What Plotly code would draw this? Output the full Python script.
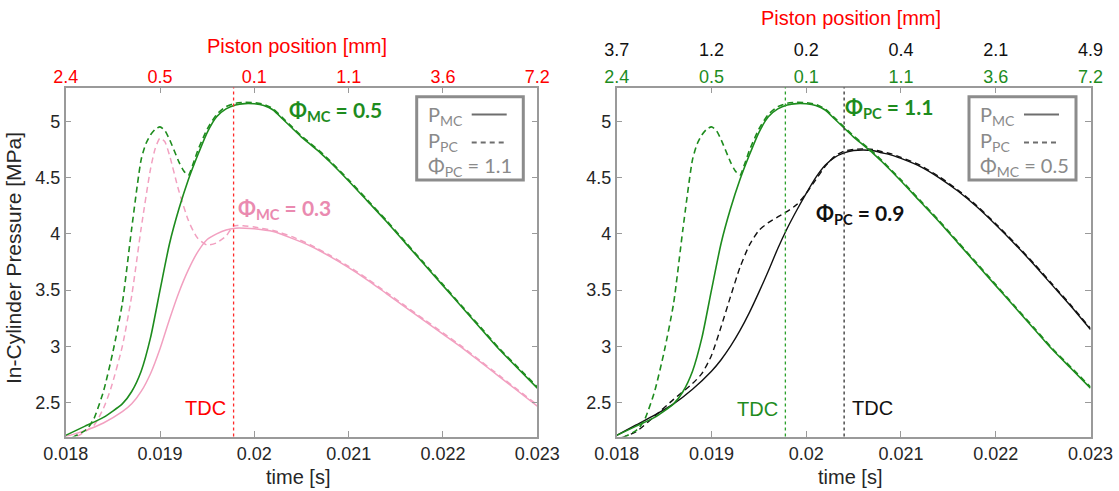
import plotly.graph_objects as go

# ---------------- data ----------------
time_ticks = [0.018, 0.019, 0.020, 0.021, 0.022, 0.023]
time_ticktext = ["0.018", "0.019", "0.02", "0.021", "0.022", "0.023"]
pos_left = ["2.4", "0.5", "0.1", "1.1", "3.6", "7.2"]
pos_right_black = ["3.7", "1.2", "0.2", "0.4", "2.1", "4.9"]
pos_right_green = ["2.4", "0.5", "0.1", "1.1", "3.6", "7.2"]
p_ticks = [2.5, 3, 3.5, 4, 4.5, 5]

# Green case (Phi_MC = 0.5, Phi_PC = 1.1), main chamber
t_g_mc = [0.0180, 0.0182, 0.0184, 0.0186, 0.0187, 0.0188, 0.0189, 0.0190, 0.0191, 0.0192,
          0.0193, 0.0194, 0.0195, 0.0196, 0.0197, 0.0198, 0.0199, 0.0200, 0.0201, 0.0202,
          0.0203, 0.0204, 0.0205, 0.0206, 0.0207, 0.0208, 0.0210, 0.0212, 0.0214, 0.0216,
          0.0218, 0.0220, 0.0222, 0.0224, 0.0226, 0.0228, 0.0230]
p_g_mc = [2.21, 2.29, 2.37, 2.49, 2.60, 2.78, 3.08, 3.50, 3.91, 4.22,
          4.48, 4.70, 4.90, 5.04, 5.11, 5.145, 5.157, 5.155, 5.14, 5.10,
          5.02, 4.94, 4.86, 4.79, 4.72, 4.64, 4.47, 4.29, 4.11, 3.92,
          3.73, 3.54, 3.35, 3.16, 2.97, 2.80, 2.63]
# Green case, pre-chamber
t_g_pc = [0.01807, 0.0182, 0.01824, 0.0183, 0.0184, 0.0185, 0.0186, 0.0187, 0.0188, 0.01885,
          0.0189, 0.01895, 0.0190, 0.01905, 0.0191, 0.0192, 0.01925, 0.0193, 0.01935, 0.0194,
          0.0195, 0.0196, 0.0197, 0.0198, 0.0199, 0.0200, 0.0201, 0.0202, 0.0203, 0.0204,
          0.0205, 0.0206, 0.0207, 0.0208, 0.0210, 0.0212, 0.0214, 0.0216, 0.0218, 0.0220,
          0.0222, 0.0224, 0.0226, 0.0228, 0.0230]
p_g_pc = [2.19, 2.25, 2.28, 2.36, 2.60, 2.95, 3.38, 4.05, 4.66, 4.80,
          4.88, 4.93, 4.95, 4.92, 4.84, 4.64, 4.56, 4.52, 4.62, 4.74,
          4.93, 5.06, 5.13, 5.16, 5.168, 5.165, 5.15, 5.11, 5.03, 4.95,
          4.87, 4.80, 4.73, 4.65, 4.48, 4.30, 4.12, 3.93, 3.74, 3.55,
          3.36, 3.17, 2.98, 2.81, 2.64]

# Pink case (Phi_MC = 0.3), main chamber
t_p_mc = [0.0180, 0.0182, 0.0184, 0.0186, 0.0187, 0.0188, 0.0189, 0.0190, 0.0191, 0.0192,
          0.0193, 0.0194, 0.0195, 0.0196, 0.0197, 0.0198, 0.0199, 0.0200, 0.0202, 0.0204,
          0.0206, 0.0208, 0.0210, 0.0212, 0.0214, 0.0216, 0.0218, 0.0220, 0.0222, 0.0224,
          0.0226, 0.0228, 0.0230]
p_p_mc = [2.20, 2.25, 2.32, 2.42, 2.49, 2.60, 2.76, 2.98, 3.24, 3.48,
          3.68, 3.84, 3.95, 4.00, 4.035, 4.05, 4.05, 4.045, 4.02, 3.96,
          3.89, 3.80, 3.70, 3.59, 3.47, 3.35, 3.23, 3.11, 2.99, 2.86,
          2.73, 2.60, 2.47]
# Pink case, pre-chamber
t_p_pc = [0.01812, 0.0183, 0.0184, 0.01848, 0.0186, 0.0187, 0.0188, 0.0189, 0.01895, 0.0190,
          0.01905, 0.0191, 0.0192, 0.0193, 0.01935, 0.0194, 0.0195, 0.0196, 0.0197, 0.01978,
          0.0199, 0.0200, 0.0202, 0.0204, 0.0206, 0.0208, 0.0210, 0.0212, 0.0214, 0.0216,
          0.0218, 0.0220, 0.0222, 0.0224, 0.0226, 0.0228, 0.0230]
p_p_pc = [2.20, 2.30, 2.45, 2.63, 3.00, 3.45, 4.05, 4.58, 4.76, 4.85,
          4.82, 4.70, 4.38, 4.12, 4.03, 3.96, 3.90, 3.92, 3.98, 4.07,
          4.07, 4.06, 4.03, 3.975, 3.90, 3.81, 3.71, 3.60, 3.48, 3.36,
          3.24, 3.12, 3.00, 2.87, 2.74, 2.61, 2.48]

# Black case (Phi_PC = 0.9), main chamber
t_k_mc = [0.0180, 0.0182, 0.0184, 0.0186, 0.0188, 0.0190, 0.0191, 0.0192, 0.0193, 0.0194,
          0.0195, 0.0196, 0.0197, 0.0198, 0.0199, 0.0200, 0.0201, 0.0202, 0.0203, 0.0204,
          0.0205, 0.0206, 0.0207, 0.0208, 0.0209, 0.0210, 0.0212, 0.0214, 0.0216, 0.0218,
          0.0220, 0.0222, 0.0224, 0.0226, 0.0228, 0.0230]
p_k_mc = [2.21, 2.30, 2.39, 2.49, 2.62, 2.78, 2.88, 3.00, 3.14, 3.30,
          3.48, 3.67, 3.87, 4.05, 4.21, 4.36, 4.50, 4.61, 4.68, 4.72,
          4.74, 4.745, 4.74, 4.72, 4.70, 4.67, 4.60, 4.50, 4.38, 4.24,
          4.08, 3.91, 3.73, 3.54, 3.35, 3.15]
# Black case, pre-chamber
t_k_pc = [0.01805, 0.0182, 0.0184, 0.0186, 0.0188, 0.0189, 0.0190, 0.0191, 0.0192, 0.0193,
          0.0194, 0.0195, 0.0196, 0.0197, 0.0198, 0.0199, 0.0200, 0.0201, 0.0202, 0.0203,
          0.0204, 0.0205, 0.0206, 0.0207, 0.0208, 0.0209, 0.0210, 0.0212, 0.0214, 0.0216,
          0.0218, 0.0220, 0.0222, 0.0224, 0.0226, 0.0228, 0.0230]
p_k_pc = [2.19, 2.24, 2.38, 2.53, 2.67, 2.76, 2.92, 3.17, 3.44, 3.70,
          3.90, 4.03, 4.10, 4.15, 4.20, 4.26, 4.36, 4.48, 4.60, 4.69,
          4.735, 4.75, 4.755, 4.75, 4.73, 4.71, 4.68, 4.61, 4.51, 4.39,
          4.25, 4.09, 3.92, 3.74, 3.55, 3.36, 3.16]

tdc_left = 0.01978
tdc_right_green = 0.01978
tdc_right_black = 0.0204

# ---------------- styling ----------------
W, H = 1119, 491
GREEN = "#1e8c1e"
PINK = "#f2a0c0"
PINK_TXT = "#ea8ab0"
BLACK = "#111111"
RED = "#ff0000"
FRAME = "#9a9a9a"
TICKFONT = dict(family="Liberation Sans, Arial", size=18, color="#262626")
CAL = "Lato, Open Sans, sans-serif"

def px_x(p):
    return p / W

def px_y(p):
    return 1 - p / H

LX = [px_x(65.7), px_x(537.3)]
RX = [px_x(616.7), px_x(1090.5)]
YD = [px_y(436.5), px_y(87.5)]
XR = [0.018, 0.023]
YR = [2.2, 5.3]

fig = go.Figure()

def line(x, y, color, dash, xa, ya, width=1.6):
    fig.add_trace(go.Scatter(x=x, y=y, mode="lines", xaxis=xa, yaxis=ya,
                             line=dict(color=color, width=width, dash=dash, shape="spline", smoothing=0.6),
                             showlegend=False, hoverinfo="skip"))

DASH = "6px,4px"
# left
line(t_p_mc, p_p_mc, PINK, "solid", "x", "y", 1.5)
line(t_p_pc, p_p_pc, PINK, DASH, "x", "y", 1.5)
line(t_g_mc, p_g_mc, GREEN, "solid", "x", "y")
line(t_g_pc, p_g_pc, GREEN, DASH, "x", "y")
# right
line(t_k_mc, p_k_mc, BLACK, "solid", "x3", "y2", 1.4)
line(t_k_pc, p_k_pc, BLACK, DASH, "x3", "y2", 1.4)
line(t_g_mc, p_g_mc, GREEN, "solid", "x3", "y2")
line(t_g_pc, p_g_pc, GREEN, DASH, "x3", "y2")

base_x = dict(range=XR, showgrid=False, zeroline=False, showline=True, linecolor=FRAME,
              linewidth=1.5, mirror="ticks", ticks="inside", ticklen=6, tickcolor=FRAME,
              tickvals=time_ticks, ticktext=time_ticktext, tickfont=TICKFONT, automargin=False)
base_y = dict(range=YR, showgrid=False, zeroline=False, showline=True, linecolor=FRAME,
              linewidth=1.5, mirror="ticks", ticks="inside", ticklen=6, tickcolor=FRAME,
              tickvals=p_ticks, tickfont=TICKFONT, automargin=False)
top_x = dict(range=XR, showgrid=False, zeroline=False, showline=False, side="top",
             ticks="", tickvals=time_ticks, automargin=False)

fig.update_layout(
    template="none",
    width=W, height=H, margin=dict(l=0, r=0, t=0, b=0, autoexpand=False),
    paper_bgcolor="white", plot_bgcolor="white", showlegend=False,
    xaxis=dict(base_x, domain=LX, anchor="y"),
    yaxis=dict(base_y, domain=YD, anchor="x"),
    xaxis2=dict(top_x, overlaying="x", anchor="y", ticktext=pos_left,
                tickfont=dict(family="Liberation Sans, Arial", size=18, color=RED)),
    xaxis3=dict(base_x, domain=RX, anchor="y2"),
    yaxis2=dict(base_y, domain=YD, anchor="x3"),
    xaxis4=dict(top_x, overlaying="x3", anchor="y2", ticktext=pos_right_green,
                tickfont=dict(family="Liberation Sans, Arial", size=18, color=GREEN)),
    xaxis5=dict(top_x, overlaying="x3", anchor="y2", ticktext=pos_right_black, ticklabelstandoff=27,
                tickfont=dict(family="Liberation Sans, Arial", size=18, color=BLACK)),
)
# dummy traces so overlay axes render
fig.add_trace(go.Scatter(x=[0.0205], y=[None], xaxis="x2", yaxis="y", showlegend=False, hoverinfo="skip"))
fig.add_trace(go.Scatter(x=[0.0205], y=[None], xaxis="x4", yaxis="y2", showlegend=False, hoverinfo="skip"))
fig.add_trace(go.Scatter(x=[0.0205], y=[None], xaxis="x5", yaxis="y2", showlegend=False, hoverinfo="skip"))

# TDC lines
for xv, xr, yr, col in [(tdc_left, "x", "y", "#ff2a2a"), (tdc_right_green, "x3", "y2", "#2aa02a"),
                        (tdc_right_black, "x3", "y2", "#333333")]:
    fig.add_shape(type="line", xref=xr, yref=yr + " domain", x0=xv, x1=xv, y0=0, y1=1,
                  line=dict(color=col, width=1.3, dash="dot"))

ann = []
def A(text, x, y, color, size=20, family="Liberation Sans, Arial", xanchor="center", **kw):
    ann.append(dict(text=text, x=px_x(x), y=px_y(y), xref="paper", yref="paper",
                    xanchor=xanchor, yanchor="middle",
                    showarrow=False, font=dict(family=family, size=size, color=color), **kw))

# axis titles
A("time [s]", 298, 477, "#262626")
A("time [s]", 850, 477, "#262626")
A("In-Cylinder Pressure [MPa]", 13, 258, "#262626", 21, textangle=-90)
A("Piston position [mm]", 297, 46, RED)
A("Piston position [mm]", 851, 18, RED)
# TDC labels
A("TDC", 205, 408, RED)
A("TDC", 757, 409, GREEN)
A("TDC", 872, 408, BLACK)
# Phi labels
A("<b>Φ<sub>MC</sub> = 0.5</b>", 335, 111, GREEN, 21, CAL)
A("<b>Φ<sub>MC</sub> = 0.3</b>", 284, 209, PINK_TXT, 21, CAL)
A("<b>Φ<sub>PC</sub> = 1.1</b>", 889, 108, GREEN, 21, CAL)
A("<b>Φ<sub>PC</sub> = 0.9</b>", 860, 214, BLACK, 21, CAL)

# legend boxes
GRAYT = "#8a8a8a"
for (x0, x1, lab) in [(416.7, 523.3, "Φ<sub>PC</sub> = 1.1"), (969, 1076, "Φ<sub>MC</sub> = 0.5")]:
    fig.add_shape(type="rect", xref="paper", yref="paper", x0=px_x(x0), x1=px_x(x1),
                  y0=px_y(180), y1=px_y(96.7), line=dict(color="#8c8c8c", width=3), fillcolor="white")
    A("P<sub>MC</sub>", x0 + 9, 116, GRAYT, 20, CAL, xanchor="left")
    A("P<sub>PC</sub>", x0 + 9, 142, GRAYT, 20, CAL, xanchor="left")
    A(lab, x0 + 9, 167, GRAYT, 20, CAL, xanchor="left")
    fig.add_shape(type="line", xref="paper", yref="paper", x0=px_x(x0 + 55), x1=px_x(x0 + 90),
                  y0=px_y(114.5), y1=px_y(114.5), line=dict(color="#6e6e6e", width=2))
    fig.add_shape(type="line", xref="paper", yref="paper", x0=px_x(x0 + 55), x1=px_x(x0 + 90),
                  y0=px_y(142.5), y1=px_y(142.5), line=dict(color="#6e6e6e", width=2, dash="5px,4px"))

fig.update_layout(annotations=ann)
fig.write_html("out.html", config={"displayModeBar": False},
               post_script="document.body.style.margin='0';document.body.style.overflow='hidden';")
